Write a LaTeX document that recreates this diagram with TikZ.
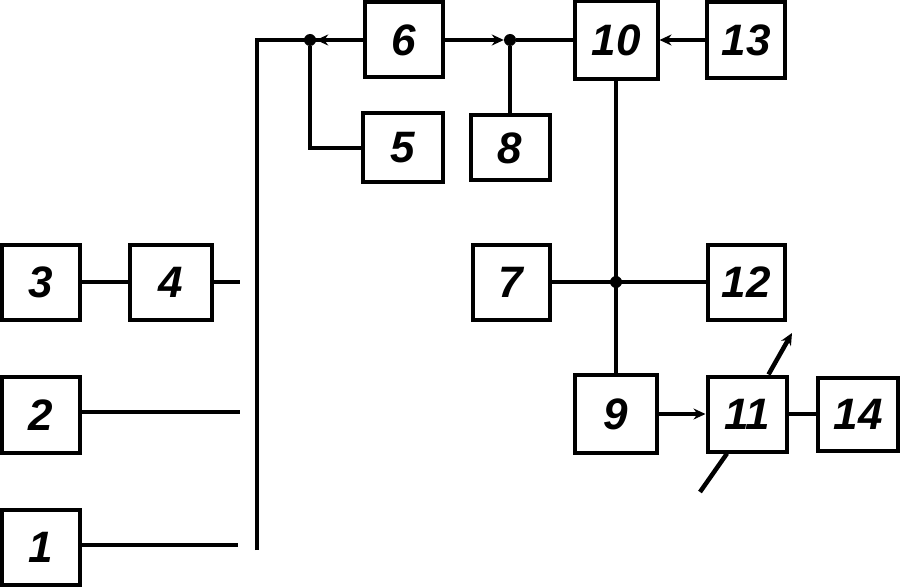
\documentclass[tikz,border=0pt]{standalone}
\usepackage{fontspec}
\setmainfont{Liberation Sans}
\usetikzlibrary{arrows.meta,calc}
\begin{document}
\begin{tikzpicture}[x=1pt,y=-1pt,
  blk/.style={draw,line width=4pt,inner sep=0pt,font=\fontsize{44}{44}\selectfont\bfseries\itshape},
  wire/.style={line width=4.5pt},
  tip/.style={-{Stealth[length=12pt,width=11pt]}},
  dot/.style={circle,fill,inner sep=0pt,minimum size=12pt}]
\useasboundingbox (0,0) rectangle (902,588);
\node[blk,minimum width=78pt,minimum height=75pt] (b1) at (41,547) {1};
\node[blk,minimum width=78pt,minimum height=76pt] (b2) at (41,415) {2};
\node[blk,minimum width=78pt,minimum height=75pt] (b3) at (41,282) {3};
\node[blk,minimum width=82pt,minimum height=75pt] (b4) at (171,282) {4};
\node[blk,minimum width=80pt,minimum height=69pt] (b5) at (403,148) {5};
\node[blk,minimum width=78pt,minimum height=75pt] (b6) at (404,40) {6};
\node[blk,minimum width=77pt,minimum height=75pt] (b7) at (511,282) {7};
\node[blk,minimum width=79pt,minimum height=65pt] (b8) at (510,148) {8};
\node[blk,minimum width=82pt,minimum height=78pt] (b9) at (616,414) {9};
\node[blk,minimum width=83pt,minimum height=78pt] (b10) at (616,40) {10};
\node[blk,minimum width=79pt,minimum height=75pt] (b11) at (747,414) {11};
\node[blk,minimum width=77pt,minimum height=75pt] (b12) at (746,282) {12};
\node[blk,minimum width=78pt,minimum height=76pt] (b13) at (746,40) {13};
\node[blk,minimum width=80pt,minimum height=73pt] (b14) at (858,414) {14};
\coordinate (busT) at (257,40);
\coordinate (busB) at (257,550);
\coordinate (s4) at (240,282);
\coordinate (s2) at (240,412);
\coordinate (s1) at (238,545);
\node[dot] (j1) at (310,40) {};
\node[dot] (j2) at (510,40) {};
\node[dot] (j3) at (616,282) {};
\coordinate (a1) at (792,333);
\coordinate (a2) at (700,492);
% bus
\draw[wire] (busB) -- (busT) -- (b6.west);
\draw[wire] (j1) |- (b5.west);
\draw[wire,tip] (b6.west) -- (j1);
\draw[wire,tip] (b6.east) -- (j2);
\draw[wire] (j2) -- (b10.west);
\draw[wire] (j2) -- (b8.north);
\draw[wire,tip] (b13.west) -- (b10.east);
\draw[wire] (b10.south) -- (b9.north);
\draw[wire] (b7.east) -- (b12.west);
\draw[wire,tip] (b9.east) -- (b11.west);
\draw[wire] (b11.east) -- (b14.west);
\draw[wire,tip] ([xshift=-20pt]b11.north east) -- (a1);
\draw[wire] ([xshift=-20pt]b11.south) -- (a2);
\draw[wire] (b3.east) -- (b4.west);
\draw[wire] (b4.east) -- (s4);
\draw[wire] (b2.east |- s2) -- (s2);
\draw[wire] (b1.east |- s1) -- (s1);
\end{tikzpicture}
\end{document}
